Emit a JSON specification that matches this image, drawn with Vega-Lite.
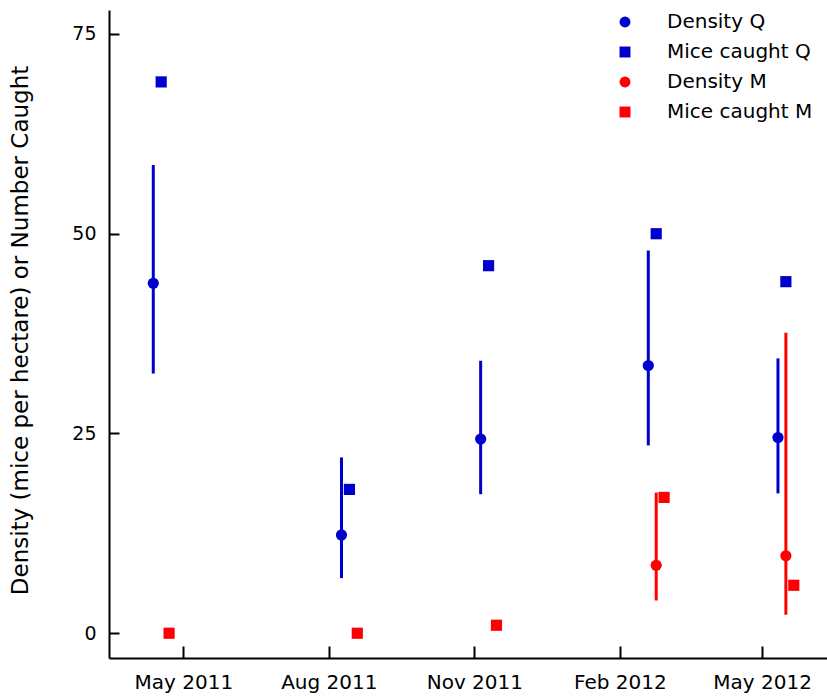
{
  "$schema": "https://vega.github.io/schema/vega-lite/v6.json",
  "width": 718,
  "height": 648,
  "autosize": {"type": "none"},
  "padding": {"left": 109, "top": 10, "right": 0, "bottom": 40},
  "background": "white",
  "config": {
    "view": {"stroke": null},
    "font": "DejaVu Sans",
    "axis": {
      "grid": false,
      "domainColor": "black",
      "domainWidth": 2,
      "tickColor": "black",
      "tickWidth": 2,
      "labelColor": "black",
      "titleColor": "black",
      "labelFont": "DejaVu Sans",
      "titleFont": "DejaVu Sans",
      "titleFontWeight": "normal"
    },
    "legend": {
      "labelFont": "DejaVu Sans",
      "labelColor": "black"
    }
  },
  "data": {
    "values": [
      {"date": "2011-04-12", "series": "Density Q", "value": 43.8, "lo": 32.5, "hi": 58.6},
      {"date": "2011-04-17", "series": "Mice caught Q", "value": 69},
      {"date": "2011-04-22", "series": "Mice caught M", "value": 0},
      {"date": "2011-08-09", "series": "Density Q", "value": 12.3, "lo": 6.9, "hi": 22.0},
      {"date": "2011-08-14", "series": "Mice caught Q", "value": 18},
      {"date": "2011-08-19", "series": "Mice caught M", "value": 0},
      {"date": "2011-11-05", "series": "Density Q", "value": 24.3, "lo": 17.4, "hi": 34.1},
      {"date": "2011-11-10", "series": "Mice caught Q", "value": 46},
      {"date": "2011-11-15", "series": "Mice caught M", "value": 1},
      {"date": "2012-02-19", "series": "Density Q", "value": 33.5, "lo": 23.5, "hi": 47.9},
      {"date": "2012-02-24", "series": "Mice caught Q", "value": 50},
      {"date": "2012-02-24", "series": "Density M", "value": 8.5, "lo": 4.1, "hi": 17.6},
      {"date": "2012-02-29", "series": "Mice caught M", "value": 17},
      {"date": "2012-05-11", "series": "Density Q", "value": 24.5, "lo": 17.5, "hi": 34.4},
      {"date": "2012-05-16", "series": "Mice caught Q", "value": 44},
      {"date": "2012-05-16", "series": "Density M", "value": 9.7, "lo": 2.3, "hi": 37.6},
      {"date": "2012-05-21", "series": "Mice caught M", "value": 6}
    ]
  },
  "encoding": {
    "color": {
      "field": "series",
      "type": "nominal",
      "scale": {
        "domain": ["Density Q", "Mice caught Q", "Density M", "Mice caught M"],
        "range": ["#0000cc", "#0000cc", "#ff0000", "#ff0000"]
      },
      "legend": {
        "title": null,
        "orient": "none",
        "legendX": 506,
        "legendY": 2,
        "labelFontSize": 20,
        "symbolSize": 120,
        "symbolStrokeWidth": 0,
        "symbolOpacity": 1,
        "labelOffset": 32,
        "rowPadding": 10
      }
    }
  },
  "layer": [
    {
      "transform": [{"filter": "isValid(datum.lo)"}],
      "mark": {"type": "rule", "strokeWidth": 3},
      "encoding": {
        "x": {
          "field": "date",
          "type": "temporal",
          "scale": {
            "type": "utc",
            "domain": [
              {"year": 2011, "month": 3, "date": 15, "utc": true},
              {"year": 2012, "month": 6, "date": 11, "utc": true}
            ]
          },
          "axis": {
            "orient": "bottom",
            "title": null,
            "values": [
              {"year": 2011, "month": 5, "date": 1, "utc": true},
              {"year": 2011, "month": 8, "date": 1, "utc": true},
              {"year": 2011, "month": 11, "date": 1, "utc": true},
              {"year": 2012, "month": 2, "date": 1, "utc": true},
              {"year": 2012, "month": 5, "date": 1, "utc": true}
            ],
            "format": "%b %Y",
            "labelFontSize": 20,
            "ticks": false,
            "labelPadding": 14,
            "labelFlush": false,
            "labelOverlap": false
          }
        },
        "y": {
          "field": "lo",
          "type": "quantitative",
          "scale": {"domain": [-3.1, 78], "nice": false, "zero": false},
          "axis": {
            "orient": "left",
            "title": "Density (mice per hectare) or Number Caught",
            "titleFontSize": 23,
            "titleX": -82,
            "titleY": 320,
            "titleBaseline": "alphabetic",
            "values": [0, 25, 50, 75],
            "labelFontSize": 19,
            "ticks": false,
            "labelPadding": 13
          }
        },
        "y2": {"field": "hi"}
      }
    },
    {
      "mark": {"type": "point", "filled": true, "size": 125, "opacity": 1},
      "encoding": {
        "x": {
          "field": "date",
          "type": "temporal",
          "axis": {
            "orient": "bottom",
            "title": null,
            "values": [
              {"year": 2011, "month": 5, "date": 1, "utc": true},
              {"year": 2011, "month": 8, "date": 1, "utc": true},
              {"year": 2011, "month": 11, "date": 1, "utc": true},
              {"year": 2012, "month": 2, "date": 1, "utc": true},
              {"year": 2012, "month": 5, "date": 1, "utc": true}
            ],
            "domain": false,
            "labels": false,
            "tickSize": 12,
            "offset": -12
          }
        },
        "y": {
          "field": "value",
          "type": "quantitative",
          "axis": {
            "orient": "left",
            "title": null,
            "values": [0, 25, 50, 75],
            "domain": false,
            "labels": false,
            "tickSize": 10,
            "offset": -10
          }
        },
        "shape": {
          "field": "series",
          "type": "nominal",
          "scale": {
            "domain": ["Density Q", "Mice caught Q", "Density M", "Mice caught M"],
            "range": ["circle", "square", "circle", "square"]
          }
        }
      }
    }
  ],
  "resolve": {"axis": {"x": "independent", "y": "independent"}}
}
